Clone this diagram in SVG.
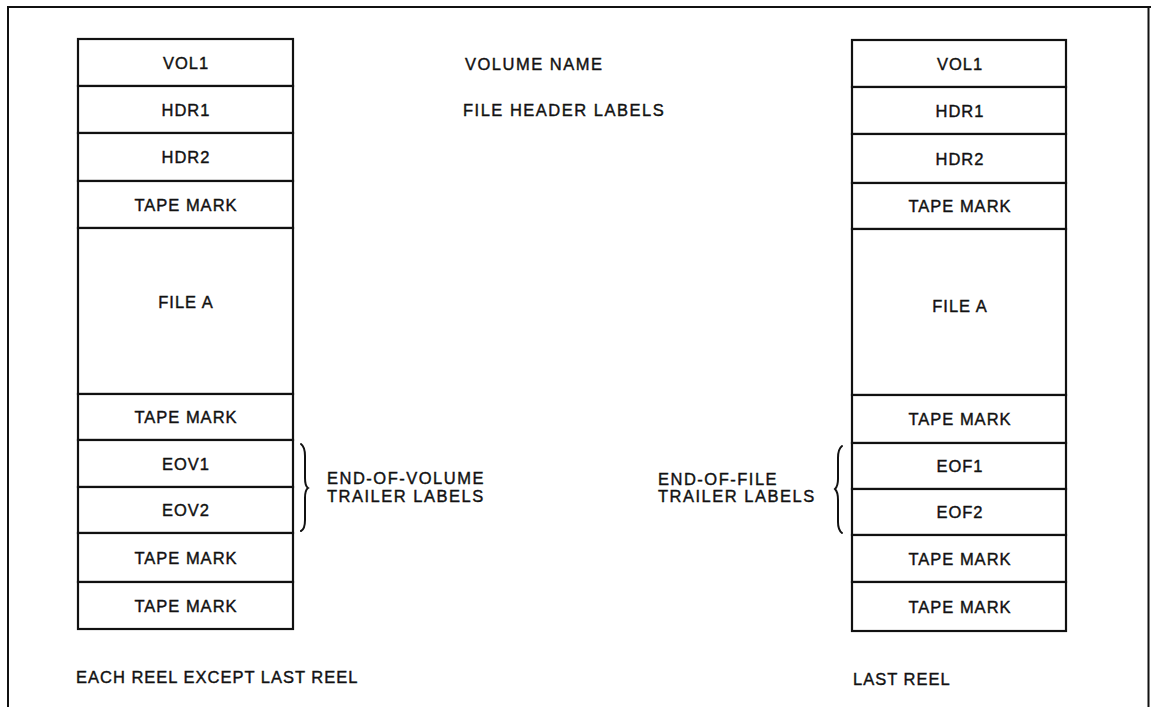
<svg xmlns="http://www.w3.org/2000/svg" width="1151" height="707" viewBox="0 0 1151 707">
<style>
.box{fill:#fff;stroke:#111;stroke-width:2.2}
.t{font-family:"Liberation Sans",Arial,sans-serif;font-size:16.5px;letter-spacing:1px;fill:#111;stroke:#111;stroke-width:0.4}
.c{text-anchor:middle}
.m{letter-spacing:1.5px}
.frame{fill:none;stroke:#111;stroke-width:2}
.brace{fill:none;stroke:#111;stroke-width:2;stroke-linecap:round}
</style>
<rect width="1151" height="707" fill="#fff"/>
<path class="frame" d="M8,707 L8,7 L1151,7 M1148.5,7 L1148.5,707"/>
<g id="left-reel">
<g id="l-vol1"><rect class="box" x="78" y="39" width="215" height="47"/><text class="t c" x="186" y="69">VOL1</text></g>
<g id="l-hdr1"><rect class="box" x="78" y="86" width="215" height="47"/><text class="t c" x="186" y="116">HDR1</text></g>
<g id="l-hdr2"><rect class="box" x="78" y="133" width="215" height="48"/><text class="t c" x="186" y="163">HDR2</text></g>
<g id="l-tm1"><rect class="box" x="78" y="181" width="215" height="47"/><text class="t c" x="186" y="211">TAPE MARK</text></g>
<g id="l-filea"><rect class="box" x="78" y="228" width="215" height="166"/><text class="t c" x="186" y="308">FILE A</text></g>
<g id="l-tm2"><rect class="box" x="78" y="394" width="215" height="46"/><text class="t c" x="186" y="423">TAPE MARK</text></g>
<g id="l-eov1"><rect class="box" x="78" y="440" width="215" height="47"/><text class="t c" x="186" y="470">EOV1</text></g>
<g id="l-eov2"><rect class="box" x="78" y="487" width="215" height="46"/><text class="t c" x="186" y="516">EOV2</text></g>
<g id="l-tm3"><rect class="box" x="78" y="533" width="215" height="49"/><text class="t c" x="186" y="564">TAPE MARK</text></g>
<g id="l-tm4"><rect class="box" x="78" y="582" width="215" height="47"/><text class="t c" x="186" y="612">TAPE MARK</text></g>
</g>
<g id="right-reel">
<g id="r-vol1"><rect class="box" x="852" y="40" width="214" height="47"/><text class="t c" x="960" y="70">VOL1</text></g>
<g id="r-hdr1"><rect class="box" x="852" y="87" width="214" height="47"/><text class="t c" x="960" y="117">HDR1</text></g>
<g id="r-hdr2"><rect class="box" x="852" y="134" width="214" height="49"/><text class="t c" x="960" y="165">HDR2</text></g>
<g id="r-tm1"><rect class="box" x="852" y="183" width="214" height="46"/><text class="t c" x="960" y="212">TAPE MARK</text></g>
<g id="r-filea"><rect class="box" x="852" y="229" width="214" height="166"/><text class="t c" x="960" y="312">FILE A</text></g>
<g id="r-tm2"><rect class="box" x="852" y="395" width="214" height="48"/><text class="t c" x="960" y="425">TAPE MARK</text></g>
<g id="r-eof1"><rect class="box" x="852" y="443" width="214" height="46"/><text class="t c" x="960" y="472">EOF1</text></g>
<g id="r-eof2"><rect class="box" x="852" y="489" width="214" height="46"/><text class="t c" x="960" y="518">EOF2</text></g>
<g id="r-tm3"><rect class="box" x="852" y="535" width="214" height="47"/><text class="t c" x="960" y="565">TAPE MARK</text></g>
<g id="r-tm4"><rect class="box" x="852" y="582" width="214" height="49"/><text class="t c" x="960" y="613">TAPE MARK</text></g>
</g>
<g id="labels">
<text class="t m" x="465" y="70">VOLUME NAME</text>
<text class="t m" x="463" y="116">FILE HEADER LABELS</text>
<text class="t m" x="327" y="484">END-OF-VOLUME</text>
<text class="t m" x="327" y="502">TRAILER LABELS</text>
<text class="t m" x="658" y="485">END-OF-FILE</text>
<text class="t m" x="658" y="502">TRAILER LABELS</text>
<text class="t" x="76" y="683">EACH REEL EXCEPT LAST REEL</text>
<text class="t" x="853" y="685">LAST REEL</text>
</g>
<g id="connectors">
<path class="brace" d="M301,444 Q305,447 305,456 L305,478 Q305,486 308,488 Q305,490 305,498 L305,520 Q305,529 301,531"/>
<path class="brace" d="M842,446 Q838,449 838,458 L838,479 Q838,486 835,489 Q838,492 838,500 L838,522 Q838,530 842,533"/>
</g>
</svg>
